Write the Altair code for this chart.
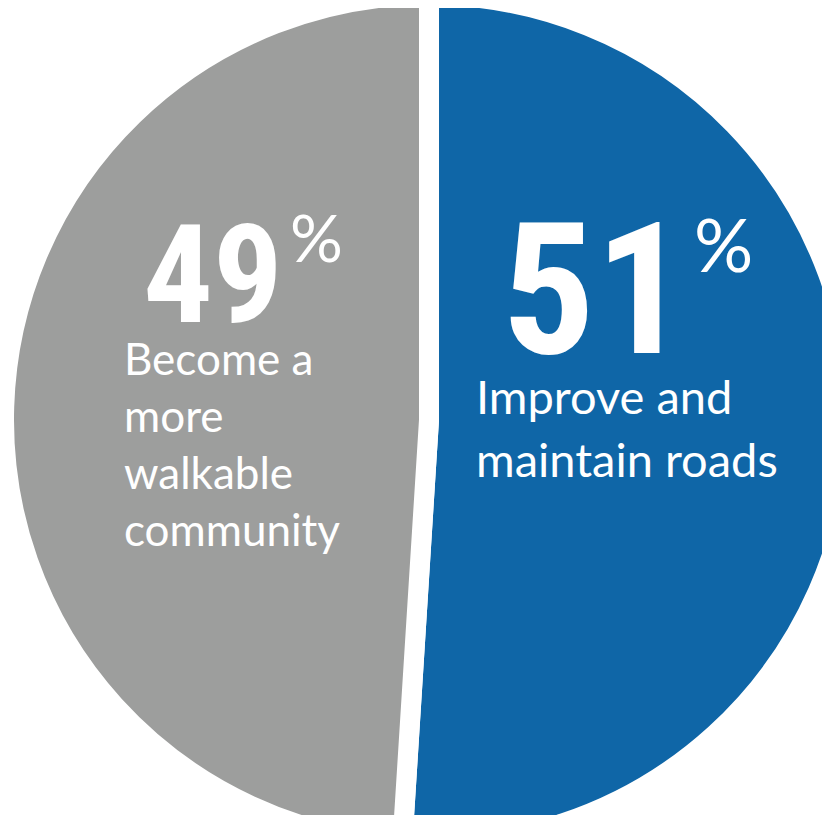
import altair as alt
import pandas as pd

# ---- data ----
categories = ["Improve and maintain roads", "Become a more walkable community"]
shares = [51, 49]
colors = ["#0f66a7", "#9d9e9d"]
label_lines = [["Improve and", "maintain roads"],
               ["Become a", "more", "walkable", "community"]]

df = pd.DataFrame({
    "category": categories,
    "share": shares,
    "rank": list(range(len(categories))),
    "pct": [str(s) for s in shares],
    "label": ["\n".join(l) for l in label_lines],
})

W, H = 814, 807
CX, CY = 421, 412
BIG = "Roboto Condensed, Roboto, sans-serif"
BODY = "Lato, Open Sans, sans-serif"

base = alt.Chart(df)

pie = base.mark_arc(outerRadius=425, stroke="white", strokeWidth=20).encode(
    theta=alt.Theta("share:Q", stack=True),
    color=alt.Color("category:N", scale=alt.Scale(domain=categories, range=colors), legend=None),
    order=alt.Order("rank:Q"),
    x=alt.value(CX),
    y=alt.value(CY),
)

# label layout: (number x, number baseline, number size, % x, % baseline, % size,
#                label x, label baseline, label size, line height)
layout = {
    categories[0]: (587, 345, 184, 686, 264, 74, 468, 406, 47, 63),
    categories[1]: (205, 314, 138, 282, 254, 66, 116, 367, 44, 57),
}

layers = [pie]
for cat in categories:
    nx, ny, ns, px, py, ps, lx, ly, ls, lh = layout[cat]
    sub = base.transform_filter(alt.datum.category == cat)
    layers.append(sub.mark_text(font=BIG, fontWeight="bold", fontSize=ns, color="white",
                                align="center", baseline="alphabetic").encode(
        text="pct:N", x=alt.value(nx), y=alt.value(ny)))
    layers.append(sub.mark_text(font=BODY, fontSize=ps, color="white",
                                align="left", baseline="alphabetic").encode(
        text=alt.value("%"), x=alt.value(px), y=alt.value(py)))
    layers.append(sub.mark_text(font=BODY, fontSize=ls, color="white", lineBreak="\n",
                                lineHeight=lh, align="left", baseline="alphabetic").encode(
        text="label:N", x=alt.value(lx), y=alt.value(ly)))

chart = alt.layer(*layers).properties(
    width=W, height=H, padding=0,
    autosize=alt.AutoSizeParams(type="none"),
).configure_view(strokeWidth=0)

chart.save("out.html", embed_options={"renderer": "svg", "actions": False})
